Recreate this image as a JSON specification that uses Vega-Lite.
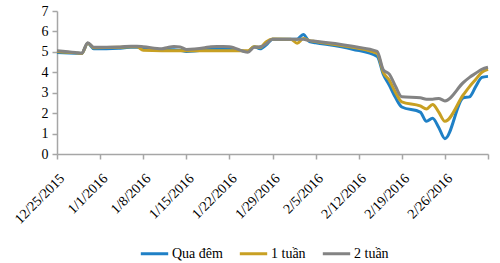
{
  "$schema": "https://vega.github.io/schema/vega-lite/v6.json",
  "width": 431,
  "height": 143,
  "autosize": {"type": "none"},
  "padding": {"left": 57, "top": 11, "right": 12, "bottom": 109},
  "background": "white",
  "config": {
    "view": {"stroke": null},
    "font": "Liberation Serif, serif"
  },
  "data": {
    "values": [
      {"d":"2015-12-25","s":"Qua đêm","v":4.97},{"d":"2015-12-28","s":"Qua đêm","v":4.93},{"d":"2015-12-29","s":"Qua đêm","v":4.92},{"d":"2015-12-30","s":"Qua đêm","v":5.42},{"d":"2015-12-31","s":"Qua đêm","v":5.15},
      {"d":"2016-01-04","s":"Qua đêm","v":5.18},{"d":"2016-01-05","s":"Qua đêm","v":5.2},{"d":"2016-01-06","s":"Qua đêm","v":5.22},{"d":"2016-01-07","s":"Qua đêm","v":5.22},{"d":"2016-01-08","s":"Qua đêm","v":5.18},
      {"d":"2016-01-11","s":"Qua đêm","v":5.12},{"d":"2016-01-12","s":"Qua đêm","v":5.12},{"d":"2016-01-13","s":"Qua đêm","v":5.1},{"d":"2016-01-14","s":"Qua đêm","v":5.08},{"d":"2016-01-15","s":"Qua đêm","v":5.02},
      {"d":"2016-01-18","s":"Qua đêm","v":5.1},{"d":"2016-01-19","s":"Qua đêm","v":5.15},{"d":"2016-01-20","s":"Qua đêm","v":5.15},{"d":"2016-01-21","s":"Qua đêm","v":5.15},{"d":"2016-01-22","s":"Qua đêm","v":5.15},
      {"d":"2016-01-25","s":"Qua đêm","v":5.02},{"d":"2016-01-26","s":"Qua đêm","v":5.25},{"d":"2016-01-27","s":"Qua đêm","v":5.15},{"d":"2016-01-28","s":"Qua đêm","v":5.35},{"d":"2016-01-29","s":"Qua đêm","v":5.62},
      {"d":"2016-02-01","s":"Qua đêm","v":5.62},{"d":"2016-02-02","s":"Qua đêm","v":5.62},{"d":"2016-02-03","s":"Qua đêm","v":5.85},{"d":"2016-02-04","s":"Qua đêm","v":5.5},{"d":"2016-02-05","s":"Qua đêm","v":5.45},
      {"d":"2016-02-11","s":"Qua đêm","v":5.13},{"d":"2016-02-15","s":"Qua đêm","v":4.78},{"d":"2016-02-16","s":"Qua đêm","v":3.9},{"d":"2016-02-17","s":"Qua đêm","v":3.35},{"d":"2016-02-18","s":"Qua đêm","v":2.75},
      {"d":"2016-02-19","s":"Qua đêm","v":2.3},{"d":"2016-02-22","s":"Qua đêm","v":2.05},{"d":"2016-02-23","s":"Qua đêm","v":1.6},{"d":"2016-02-24","s":"Qua đêm","v":1.75},{"d":"2016-02-25","s":"Qua đêm","v":1.3},
      {"d":"2016-02-26","s":"Qua đêm","v":0.75},{"d":"2016-02-29","s":"Qua đêm","v":2.75},{"d":"2016-03-01","s":"Qua đêm","v":2.8},{"d":"2016-03-02","s":"Qua đêm","v":3.3},{"d":"2016-03-03","s":"Qua đêm","v":3.75},{"d":"2016-03-04","s":"Qua đêm","v":3.8},

      {"d":"2015-12-25","s":"1 tuần","v":5.02},{"d":"2015-12-28","s":"1 tuần","v":4.95},{"d":"2015-12-29","s":"1 tuần","v":4.92},{"d":"2015-12-30","s":"1 tuần","v":5.42},{"d":"2015-12-31","s":"1 tuần","v":5.2},
      {"d":"2016-01-04","s":"1 tuần","v":5.22},{"d":"2016-01-05","s":"1 tuần","v":5.24},{"d":"2016-01-06","s":"1 tuần","v":5.25},{"d":"2016-01-07","s":"1 tuần","v":5.25},{"d":"2016-01-08","s":"1 tuần","v":5.08},
      {"d":"2016-01-11","s":"1 tuần","v":5.06},{"d":"2016-01-12","s":"1 tuần","v":5.06},{"d":"2016-01-13","s":"1 tuần","v":5.06},{"d":"2016-01-14","s":"1 tuần","v":5.06},{"d":"2016-01-15","s":"1 tuần","v":5.06},
      {"d":"2016-01-18","s":"1 tuần","v":5.05},{"d":"2016-01-19","s":"1 tuần","v":5.05},{"d":"2016-01-20","s":"1 tuần","v":5.05},{"d":"2016-01-21","s":"1 tuần","v":5.05},{"d":"2016-01-22","s":"1 tuần","v":5.05},
      {"d":"2016-01-25","s":"1 tuần","v":5.05},{"d":"2016-01-26","s":"1 tuần","v":5.25},{"d":"2016-01-27","s":"1 tuần","v":5.22},{"d":"2016-01-28","s":"1 tuần","v":5.5},{"d":"2016-01-29","s":"1 tuần","v":5.63},
      {"d":"2016-02-01","s":"1 tuần","v":5.62},{"d":"2016-02-02","s":"1 tuần","v":5.42},{"d":"2016-02-03","s":"1 tuần","v":5.65},{"d":"2016-02-04","s":"1 tuần","v":5.55},{"d":"2016-02-05","s":"1 tuần","v":5.5},
      {"d":"2016-02-11","s":"1 tuần","v":5.22},{"d":"2016-02-15","s":"1 tuần","v":4.92},{"d":"2016-02-16","s":"1 tuần","v":4.0},{"d":"2016-02-17","s":"1 tuần","v":3.6},{"d":"2016-02-18","s":"1 tuần","v":3.0},
      {"d":"2016-02-19","s":"1 tuần","v":2.55},{"d":"2016-02-22","s":"1 tuần","v":2.35},{"d":"2016-02-23","s":"1 tuần","v":2.2},{"d":"2016-02-24","s":"1 tuần","v":2.42},{"d":"2016-02-25","s":"1 tuần","v":2.05},
      {"d":"2016-02-26","s":"1 tuần","v":1.6},{"d":"2016-02-29","s":"1 tuần","v":2.9},{"d":"2016-03-01","s":"1 tuần","v":3.3},{"d":"2016-03-02","s":"1 tuần","v":3.65},{"d":"2016-03-03","s":"1 tuần","v":4.0},{"d":"2016-03-04","s":"1 tuần","v":4.15},

      {"d":"2015-12-25","s":"2 tuần","v":5.06},{"d":"2015-12-28","s":"2 tuần","v":4.97},{"d":"2015-12-29","s":"2 tuần","v":4.93},{"d":"2015-12-30","s":"2 tuần","v":5.45},{"d":"2015-12-31","s":"2 tuần","v":5.22},
      {"d":"2016-01-04","s":"2 tuần","v":5.24},{"d":"2016-01-05","s":"2 tuần","v":5.26},{"d":"2016-01-06","s":"2 tuần","v":5.27},{"d":"2016-01-07","s":"2 tuần","v":5.27},{"d":"2016-01-08","s":"2 tuần","v":5.25},
      {"d":"2016-01-11","s":"2 tuần","v":5.15},{"d":"2016-01-12","s":"2 tuần","v":5.22},{"d":"2016-01-13","s":"2 tuần","v":5.26},{"d":"2016-01-14","s":"2 tuần","v":5.24},{"d":"2016-01-15","s":"2 tuần","v":5.12},
      {"d":"2016-01-18","s":"2 tuần","v":5.2},{"d":"2016-01-19","s":"2 tuần","v":5.25},{"d":"2016-01-20","s":"2 tuần","v":5.26},{"d":"2016-01-21","s":"2 tuần","v":5.26},{"d":"2016-01-22","s":"2 tuần","v":5.25},
      {"d":"2016-01-25","s":"2 tuần","v":4.98},{"d":"2016-01-26","s":"2 tuần","v":5.22},{"d":"2016-01-27","s":"2 tuần","v":5.25},{"d":"2016-01-28","s":"2 tuần","v":5.4},{"d":"2016-01-29","s":"2 tuần","v":5.62},
      {"d":"2016-02-01","s":"2 tuần","v":5.62},{"d":"2016-02-02","s":"2 tuần","v":5.62},{"d":"2016-02-03","s":"2 tuần","v":5.62},{"d":"2016-02-04","s":"2 tuần","v":5.55},{"d":"2016-02-05","s":"2 tuần","v":5.52},
      {"d":"2016-02-11","s":"2 tuần","v":5.27},{"d":"2016-02-15","s":"2 tuần","v":5.02},{"d":"2016-02-16","s":"2 tuần","v":4.12},{"d":"2016-02-17","s":"2 tuần","v":3.9},{"d":"2016-02-18","s":"2 tuần","v":3.3},
      {"d":"2016-02-19","s":"2 tuần","v":2.8},{"d":"2016-02-22","s":"2 tuần","v":2.75},{"d":"2016-02-23","s":"2 tuần","v":2.68},{"d":"2016-02-24","s":"2 tuần","v":2.68},{"d":"2016-02-25","s":"2 tuần","v":2.72},
      {"d":"2016-02-26","s":"2 tuần","v":2.6},{"d":"2016-02-29","s":"2 tuần","v":3.5},{"d":"2016-03-01","s":"2 tuần","v":3.75},{"d":"2016-03-02","s":"2 tuần","v":3.95},{"d":"2016-03-03","s":"2 tuần","v":4.15},{"d":"2016-03-04","s":"2 tuần","v":4.25}
    ]
  },
  "mark": {"type": "line", "interpolate": "monotone", "strokeWidth": 3},
  "encoding": {
    "x": {
      "field": "d",
      "type": "temporal",
      "scale": {
        "type": "utc",
        "domain": [{"year": 2015, "month": 12, "date": 25, "utc": true}, {"year": 2016, "month": 3, "date": 4, "utc": true}]
      },
      "axis": {
        "title": null,
        "grid": false,
        "values": [
          {"year": 2015, "month": 12, "date": 25, "utc": true},
          {"year": 2016, "month": 1, "date": 1, "utc": true},
          {"year": 2016, "month": 1, "date": 8, "utc": true},
          {"year": 2016, "month": 1, "date": 15, "utc": true},
          {"year": 2016, "month": 1, "date": 22, "utc": true},
          {"year": 2016, "month": 1, "date": 29, "utc": true},
          {"year": 2016, "month": 2, "date": 5, "utc": true},
          {"year": 2016, "month": 2, "date": 12, "utc": true},
          {"year": 2016, "month": 2, "date": 19, "utc": true},
          {"year": 2016, "month": 2, "date": 26, "utc": true},
          {"year": 2016, "month": 3, "date": 4, "utc": true}
        ],
        "format": "%-m/%-d/%Y",
        "labelExpr": "datum.index >= 1 ? '' : datum.label",
        "labelAngle": -45,
        "labelAlign": "right",
        "labelBaseline": "top",
        "labelFont": "Liberation Serif, serif",
        "labelFontSize": 14,
        "labelColor": "#000000",
        "labelOverlap": false,
        "labelPadding": 12,
        "labelDx": 4,
        "labelBound": false,
        "labelFlush": false,
        "domainColor": "#a6a6a6",
        "domainWidth": 1.5,
        "tickColor": "#a6a6a6",
        "tickSize": 5,
        "tickWidth": 1.5
      }
    },
    "y": {
      "field": "v",
      "type": "quantitative",
      "scale": {"domain": [0, 7], "nice": false},
      "axis": {
        "title": null,
        "grid": false,
        "values": [0, 1, 2, 3, 4, 5, 6, 7],
        "labelFont": "Liberation Serif, serif",
        "labelFontSize": 14,
        "labelColor": "#000000",
        "labelPadding": 4,
        "domainColor": "#a6a6a6",
        "domainWidth": 1.5,
        "tickColor": "#a6a6a6",
        "tickSize": 5,
        "tickWidth": 1.5
      }
    },
    "color": {
      "field": "s",
      "type": "nominal",
      "scale": {"domain": ["Qua đêm", "1 tuần", "2 tuần"], "range": ["#1f80c6", "#c8a023", "#838383"]},
      "legend": {
        "title": null,
        "orient": "none",
        "direction": "horizontal",
        "legendX": 82,
        "legendY": 227,
        "symbolType": "stroke",
        "symbolSize": 750,
        "symbolStrokeWidth": 3,
        "labelFont": "Liberation Serif, serif",
        "labelFontSize": 14,
        "labelColor": "#000000",
        "labelOffset": 2,
        "columnPadding": 10
      }
    }
  }
}
